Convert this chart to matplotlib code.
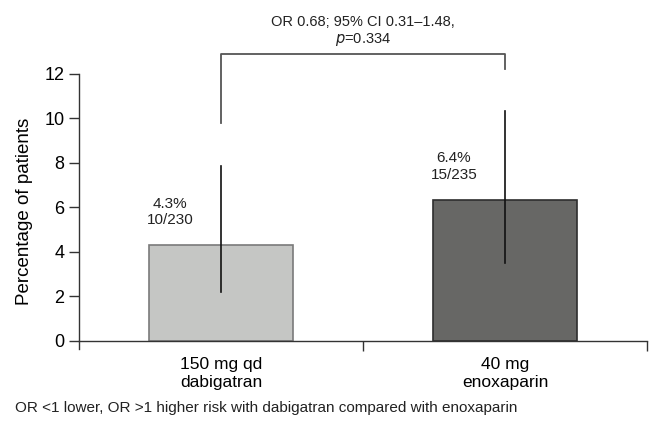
import matplotlib
matplotlib.use("Agg")
import matplotlib.pyplot as plt

plt.rcParams['font.family'] = ['Liberation Sans', 'DejaVu Sans']

groups = ["150 mg qd\ndabigatran", "40 mg\nenoxaparin"]
pct = [4.3, 6.35]
ci_low = [2.18, 3.51]
ci_high = [7.87, 10.35]
pct_labels = ["4.3%\n10/230", "6.4%\n15/235"]
colors = ["#c5c6c4", "#676765"]
edges = ["#7a7a7a", "#2e2e2e"]
stat_text = "OR 0.68; 95% CI 0.31\u20131.48,\n$\\it{p}$=0.334"
footnote = "OR <1 lower, OR >1 higher risk with dabigatran compared with enoxaparin"

fig = plt.figure(figsize=(6.5, 4.25), dpi=100)
ax = fig.add_axes([0.1215, 0.18, 0.874, 0.646])

x = list(range(len(groups)))
ax.bar(x, pct, width=0.51, color=colors, edgecolor=edges, linewidth=1.2, zorder=2)
for i in x:
    ax.plot([i, i], [ci_low[i], ci_high[i]], color="#111111", lw=1.2, zorder=3)
    ax.text(i - 0.18, pct[i] + 0.8, pct_labels[i], ha="center", va="bottom",
            fontsize=11, linespacing=1.25, color="#222222")

# bracket over the two bars
ax.plot([0, 0, 1, 1], [9.8, 12.9, 12.9, 12.23], color="#555555", lw=1.3,
        clip_on=False, zorder=3)
ax.text(0.5, 13.15, stat_text, ha="center", va="bottom", fontsize=10.5,
        linespacing=1.2, color="#222222", transform=ax.transData)

ax.set_xlim(-0.5, 1.5)
ax.set_ylim(-0.35, 12)
ax.set_yticks([0, 2, 4, 6, 8, 10, 12])
ax.set_xticks(x)
ax.set_xticklabels(groups, linespacing=1.15)
ax.set_xticks([0.5, 1.5], minor=True)
ax.tick_params(axis="x", which="major", length=0, pad=12, labelsize=12.5)
ax.tick_params(axis="x", which="minor", length=7, width=1, color="#333333")
ax.tick_params(axis="y", length=7, width=1, labelsize=13, color="#333333")
ax.spines["top"].set_visible(False)
ax.spines["right"].set_visible(False)
ax.spines["bottom"].set_position(("data", 0))
for s in ("left", "bottom"):
    ax.spines[s].set_color("#333333")
    ax.spines[s].set_linewidth(1.0)
ax.set_ylabel("Percentage of patients", fontsize=13.5, labelpad=8)

fig.text(15 / 650, 1 - 408 / 425, footnote, fontsize=11, va="center", color="#222222")

fig.savefig("out.png", dpi=100)
